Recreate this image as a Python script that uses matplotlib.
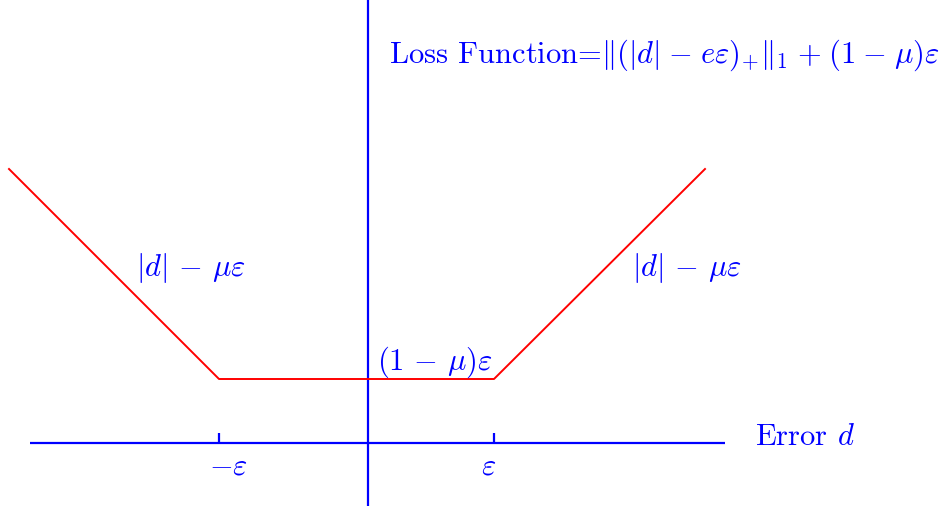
import matplotlib
matplotlib.use("Agg")
import matplotlib.pyplot as plt

plt.rcParams['mathtext.fontset'] = 'cm'
plt.rcParams['font.family'] = ['cmr10', 'DejaVu Sans']
plt.rcParams['axes.formatter.use_mathtext'] = True

# Loss curve vertices (data units: origin at axes crossing)
loss_x = [-359, -149, 126, 337]
loss_y = [274, 64, 64, 274]

# Axis extents
xaxis_x = [-338, 357]
yaxis_y = [-63, 444]

# Tick positions and labels
tick_x = [-149, 126]
tick_labels = [r'$-\varepsilon$', r'$\varepsilon$']

sp = r'\hspace{0.08}'
title_text = (r'Loss Function=$\|(|d|' + sp + '-' + sp + r'e\varepsilon)_{+}\|_1'
              + sp + '+' + sp + '(1' + sp + '-' + sp + r'\mu)\varepsilon$')
side_label = r'$|d|\,-\,\mu\varepsilon$'
flat_label = r'$(1\,-\,\mu)\varepsilon$'
xlabel_text = r'Error $d$'

fig = plt.figure(figsize=(9.52, 5.10), dpi=100)
ax = fig.add_axes([0, 0, 1, 1])
ax.set_xlim(-368, 952 - 368)
ax.set_ylim(444 - 510, 444)
ax.axis('off')

blue = '#0000ff'
red = '#ff0000'
fs = 22

ax.plot(xaxis_x, [0, 0], color=blue, lw=1.6, solid_capstyle='butt')
ax.plot([0, 0], yaxis_y, color=blue, lw=1.6, solid_capstyle='butt')
for tx in tick_x:
    ax.plot([tx, tx], [0, 10], color=blue, lw=1.6, solid_capstyle='butt')
ax.plot(loss_x, loss_y, color=red, lw=1.4)

ax.text(tick_x[0] + 9, -23, tick_labels[0], color=blue, fontsize=fs, ha='center', va='center')
ax.text(tick_x[1] - 5, -23, tick_labels[1], color=blue, fontsize=fs, ha='center', va='center')
ax.text(21, 389, title_text, color=blue, fontsize=fs, ha='left', va='center')
ax.text(-177, 176, side_label, color=blue, fontsize=fs, ha='center', va='center')
ax.text(319, 176, side_label, color=blue, fontsize=fs, ha='center', va='center')
ax.text(67, 82, flat_label, color=blue, fontsize=fs, ha='center', va='center')
ax.text(387, 7, xlabel_text, color=blue, fontsize=fs, ha='left', va='center')

fig.savefig('out.png', dpi=100)
